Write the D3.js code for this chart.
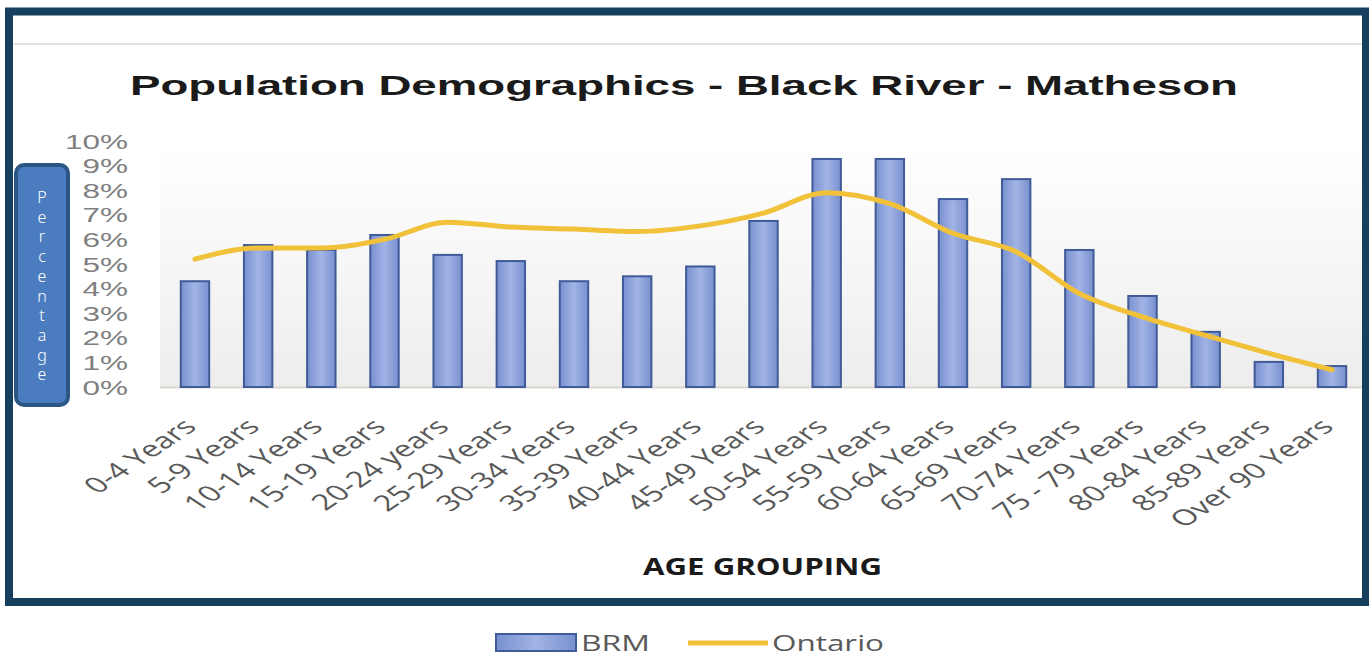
<!DOCTYPE html>
<html>
<head>
<meta charset="utf-8">
<script src="https://cdn.jsdelivr.net/npm/d3@7"></script>
<style>
  html, body { margin: 0; padding: 0; background: #ffffff; }
  svg { display: block; }
</style>
</head>
<body>
<div id="chart"></div>
<script>
const categories = [
  "0-4 Years", "5-9 Years", "10-14 Years", "15-19 Years", "20-24 years",
  "25-29 Years", "30-34 Years", "35-39 Years", "40-44 Years", "45-49 Years",
  "50-54 Years", "55-59 Years", "60-64 Years", "65-69 Years", "70-74 Years",
  "75 - 79 Years", "80-84 Years", "85-89 Years", "Over 90 Years"
];
// percent of population
const brm = [4.3, 5.77, 5.57, 6.18, 5.37, 5.12, 4.3, 4.5, 4.9, 6.75, 9.27, 9.27, 7.64, 8.45, 5.57, 3.7, 2.24, 1.02, 0.85];
const ontario = [5.2, 5.65, 5.65, 6.0, 6.7, 6.5, 6.42, 6.32, 6.55, 7.07, 7.9, 7.45, 6.25, 5.5, 3.8, 2.85, 2.1, 1.37, 0.7];
const yTicks = [0, 1, 2, 3, 4, 5, 6, 7, 8, 9, 10];
const seriesNames = ["BRM", "Ontario"];

const width = 1369, height = 656;
// the source picture is stretched sideways, so text is too
const stretch = 1.5;

const svg = d3.select("#chart").append("svg")
  .attr("width", width)
  .attr("height", height);

const defs = svg.append("defs");
const barGrad = defs.append("linearGradient").attr("id", "barGrad")
  .attr("x1", "0%").attr("x2", "100%").attr("y1", "0%").attr("y2", "0%");
barGrad.append("stop").attr("offset", "0%").attr("stop-color", "#7890cf");
barGrad.append("stop").attr("offset", "50%").attr("stop-color", "#a2b4e6");
barGrad.append("stop").attr("offset", "100%").attr("stop-color", "#7890cf");

const panelGrad = defs.append("linearGradient").attr("id", "panelGrad")
  .attr("x1", "0%").attr("x2", "0%").attr("y1", "0%").attr("y2", "100%");
panelGrad.append("stop").attr("offset", "0%").attr("stop-color", "#ffffff");
panelGrad.append("stop").attr("offset", "100%").attr("stop-color", "#ededed");

const x = d3.scaleBand()
  .domain(categories)
  .range([163.4, 1363.6])
  .paddingInner(0.55)
  .paddingOuter(0.275);

const y = d3.scaleLinear().domain([0, 10]).range([387, 141]);

// outer frame
svg.append("rect")
  .attr("x", 9).attr("y", 11.5)
  .attr("width", 1357).attr("height", 590.5)
  .attr("fill", "#ffffff")
  .attr("stroke", "#17405e")
  .attr("stroke-width", 8);

svg.append("line")
  .attr("x1", 13).attr("x2", 1362)
  .attr("y1", 44).attr("y2", 44)
  .attr("stroke", "#e2e2e2")
  .attr("stroke-width", 2);

// plot panel
svg.append("rect")
  .attr("x", 160).attr("y", 145)
  .attr("width", 1202).attr("height", y(0) - 145)
  .attr("fill", "url(#panelGrad)");

svg.append("line")
  .attr("x1", 160).attr("x2", 1362)
  .attr("y1", y(0) + 0.5).attr("y2", y(0) + 0.5)
  .attr("stroke", "#dcd6cf")
  .attr("stroke-width", 2);

svg.append("text")
  .attr("x", 130).attr("y", 95)
  .attr("textLength", 1108)
  .attr("lengthAdjust", "spacingAndGlyphs")
  .style("font-family", "'Liberation Sans', Arial, sans-serif")
  .style("font-weight", "bold")
  .style("font-size", "28px")
  .attr("fill", "#1a1a1a")
  .text("Population Demographics  - Black River - Matheson");

// y axis labels
svg.append("g")
  .selectAll("text")
  .data(yTicks)
  .enter()
  .append("text")
  .attr("transform", (d) => `translate(128,${y(d)}) scale(${stretch},1)`)
  .attr("text-anchor", "end")
  .attr("dy", "0.36em")
  .style("font-family", "'Liberation Sans', Arial, sans-serif")
  .style("font-size", "21px")
  .attr("fill", "#7f7f7f")
  .text((d) => d + "%");

// bars
svg.append("g")
  .selectAll("rect")
  .data(categories)
  .enter()
  .append("rect")
  .attr("x", (d) => x(d))
  .attr("y", (d, i) => y(brm[i]))
  .attr("width", x.bandwidth())
  .attr("height", (d, i) => y(0) - y(brm[i]))
  .attr("fill", "url(#barGrad)")
  .attr("stroke", "#3f5b98")
  .attr("stroke-width", 2);

// Ontario line
const line = d3.line()
  .x((d, i) => x(categories[i]) + x.bandwidth() / 2)
  .y((d) => y(d))
  .curve(d3.curveMonotoneX);

svg.append("path")
  .datum(ontario)
  .attr("d", line)
  .attr("fill", "none")
  .attr("stroke", "#f1c13a")
  .attr("stroke-width", 5)
  .attr("stroke-linejoin", "round")
  .attr("stroke-linecap", "round");

// category labels, rotated
svg.append("g")
  .selectAll("text")
  .data(categories)
  .enter()
  .append("text")
  .attr("transform", (d) =>
    `translate(${x(d) + x.bandwidth() / 2 + 3},428) scale(${stretch},1) rotate(-45)`)
  .attr("text-anchor", "end")
  .style("font-family", "'Open Sans', sans-serif")
  .style("font-size", "22px")
  .attr("fill", "#595959")
  .text((d) => d);

svg.append("text")
  .attr("x", 643).attr("y", 575)
  .attr("textLength", 239)
  .attr("lengthAdjust", "spacingAndGlyphs")
  .style("font-family", "'Open Sans', sans-serif")
  .style("font-weight", "bold")
  .style("font-size", "23px")
  .attr("fill", "#1a1a1a")
  .text("AGE GROUPING");

// y axis title box
svg.append("rect")
  .attr("x", 16).attr("y", 165)
  .attr("width", 52).attr("height", 240)
  .attr("rx", 8).attr("ry", 8)
  .attr("fill", "#4b7cc0")
  .attr("stroke", "#2c5686")
  .attr("stroke-width", 4);

const yTitle = svg.append("text")
  .attr("text-anchor", "middle")
  .style("font-family", "'Noto Sans', sans-serif")
  .style("font-weight", 300)
  .style("font-size", "16px")
  .attr("fill", "#ffffff");

yTitle.selectAll("tspan")
  .data("Percentage".split(""))
  .enter()
  .append("tspan")
  .attr("x", 42)
  .attr("y", (d, i) => 203 + i * 19.7)
  .text((d) => d);

// legend
const legend = svg.append("g");
legend.append("rect")
  .attr("x", 496).attr("y", 634)
  .attr("width", 80).attr("height", 17)
  .attr("fill", "url(#barGrad)")
  .attr("stroke", "#3f5b98")
  .attr("stroke-width", 2);

legend.append("text")
  .attr("x", 581).attr("y", 651)
  .attr("textLength", 69)
  .attr("lengthAdjust", "spacingAndGlyphs")
  .style("font-family", "'Open Sans', sans-serif")
  .style("font-size", "22px")
  .attr("fill", "#595959")
  .text(seriesNames[0]);

legend.append("line")
  .attr("x1", 688).attr("x2", 768)
  .attr("y1", 643).attr("y2", 643)
  .attr("stroke", "#f1c13a")
  .attr("stroke-width", 5);

legend.append("text")
  .attr("x", 772).attr("y", 651)
  .attr("textLength", 112)
  .attr("lengthAdjust", "spacingAndGlyphs")
  .style("font-family", "'Open Sans', sans-serif")
  .style("font-size", "22px")
  .attr("fill", "#595959")
  .text(seriesNames[1]);
</script>
</body>
</html>
